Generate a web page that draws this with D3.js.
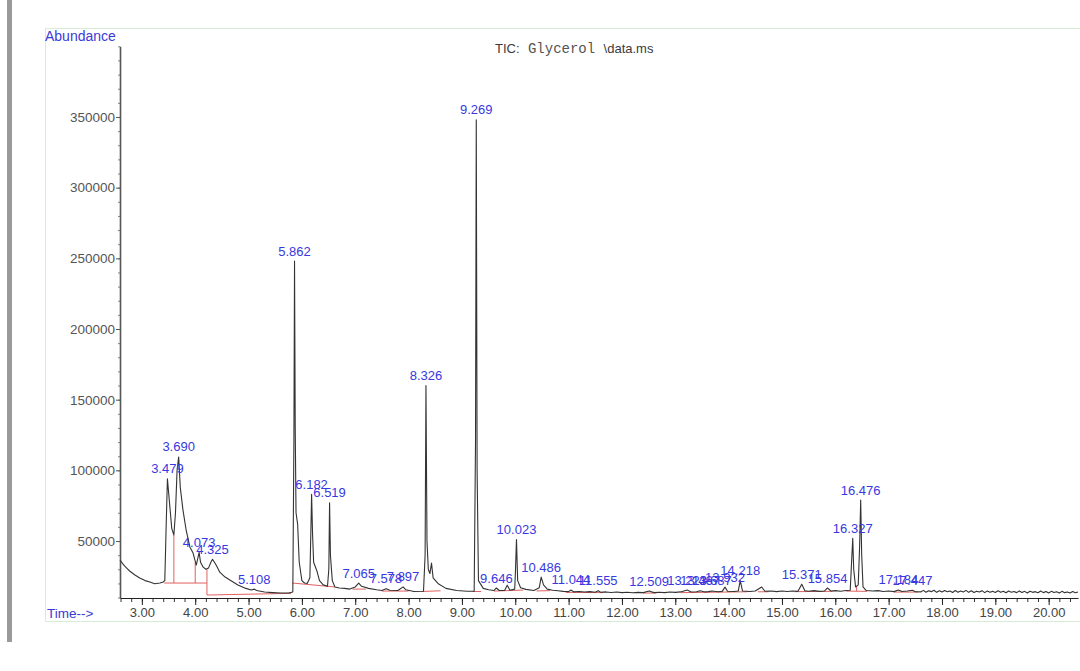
<!DOCTYPE html>
<html>
<head>
<meta charset="utf-8">
<script src="https://cdn.jsdelivr.net/npm/d3@7"></script>
<style>
  html, body { margin: 0; padding: 0; background: #ffffff; }
  svg { display: block; }
  text { font-family: "Liberation Sans", Arial, sans-serif; }
</style>
</head>
<body>
<svg id="chart" width="1080" height="671"></svg>
<script>
// Total ion chromatogram: retention time (min) and abundance
const retentionTime = [
  2.59, 2.64, 2.68, 2.73, 2.77, 2.87, 2.96, 3.06, 3.15, 3.24, 3.34, 3.40, 3.43, 3.455, 3.479,
  3.50, 3.53, 3.56, 3.60, 3.63, 3.66, 3.69, 3.72, 3.77, 3.83, 3.90, 3.96, 4.02, 4.05, 4.073,
  4.10, 4.15, 4.20, 4.25, 4.30, 4.325, 4.36, 4.40, 4.46, 4.56, 4.65, 4.80, 4.95, 5.05, 5.108,
  5.15, 5.30, 5.45, 5.60, 5.75, 5.83, 5.85, 5.862, 5.875, 5.89, 5.92, 5.95, 6.00, 6.05, 6.10,
  6.15, 6.17, 6.182, 6.20, 6.22, 6.25, 6.28, 6.33, 6.40, 6.48, 6.505, 6.519, 6.535, 6.57, 6.62,
  6.70, 6.80, 6.90, 7.00, 7.065, 7.12, 7.25, 7.40, 7.50, 7.578, 7.65, 7.80, 7.897, 7.95, 8.10,
  8.28, 8.31, 8.326, 8.345, 8.37, 8.40, 8.43, 8.46, 8.55, 8.70, 8.90, 9.10, 9.23, 9.255, 9.269,
  9.285, 9.31, 9.40, 9.50, 9.60, 9.646, 9.70, 9.80, 9.85, 9.90, 9.99, 10.005, 10.023, 10.045, 10.10,
  10.20, 10.35, 10.45, 10.486, 10.53, 10.60, 10.70, 10.80, 10.90, 11.00, 11.044, 11.10, 11.20, 11.30, 11.40,
  11.50, 11.555, 11.60, 11.70, 11.80, 11.90, 12.00, 12.10, 12.20, 12.30, 12.40, 12.509, 12.60, 12.70, 12.80,
  12.90, 13.00, 13.10, 13.223, 13.30, 13.40, 13.467, 13.55, 13.62, 13.687, 13.80, 13.88, 13.932, 13.98, 14.10,
  14.18, 14.218, 14.26, 14.40, 14.50, 14.62, 14.68, 14.80, 14.90, 15.00, 15.10, 15.20, 15.30, 15.371, 15.43,
  15.50, 15.60, 15.70, 15.80, 15.854, 15.92, 16.00, 16.10, 16.20, 16.28, 16.305, 16.327, 16.345, 16.38, 16.43,
  16.455, 16.476, 16.495, 16.52, 16.58, 16.70, 16.80, 16.90, 17.00, 17.10, 17.184, 17.25, 17.35, 17.447, 17.50,
  17.60, 17.65, 17.70, 17.75, 17.80, 17.85, 17.90, 17.95, 18.00, 18.05, 18.10, 18.15, 18.20, 18.25, 18.30,
  18.35, 18.40, 18.45, 18.50, 18.55, 18.60, 18.65, 18.70, 18.75, 18.80, 18.85, 18.90, 18.95, 19.00, 19.05,
  19.10, 19.15, 19.20, 19.25, 19.30, 19.35, 19.40, 19.45, 19.50, 19.55, 19.60, 19.65, 19.70, 19.75, 19.80,
  19.85, 19.90, 19.95, 20.00, 20.05, 20.10, 20.15, 20.20, 20.25, 20.30, 20.35, 20.40, 20.45, 20.50, 20.55
];
const abundance = [
  36600, 34000, 32200, 30300, 28800, 26000, 23800, 22000, 21000, 19800, 20300, 21000, 22000, 60000, 94000,
  85000, 72000, 59000, 54300, 70000, 100000, 109500, 88000, 72000, 57800, 45800, 41500, 33000, 38000, 42000,
  35000, 31500, 30000, 31000, 35500, 37000, 35000, 32500, 28000, 24500, 22400, 18900, 16500, 15400, 16000,
  15000, 13900, 13500, 13200, 13200, 14000, 120000, 248000, 130000, 70000, 62000, 35000, 22000, 20300, 20000,
  24000, 60000, 83000, 55000, 35000, 32000, 29000, 22000, 19000, 18000, 30000, 77000, 40000, 22000, 17500,
  16800, 16500, 16000, 17500, 20300, 18000, 16500, 15500, 15000, 16300, 15200, 15000, 17600, 15500, 14300,
  14500, 40000, 160000, 50000, 30000, 27000, 34400, 24000, 20000, 16500, 15000, 14500, 14500, 120000, 348000,
  100000, 22000, 16500, 15500, 15000, 16800, 15000, 15000, 18800, 15200, 16000, 30000, 51000, 22000, 17000,
  15800, 15000, 17000, 24500, 19000, 16000, 15200, 14800, 14400, 14200, 15400, 14000, 14300, 13900, 14200,
  13800, 14900, 13800, 14000, 13600, 13900, 13500, 13800, 13400, 13700, 13500, 14600, 13500, 13800, 13500,
  13900, 13700, 14000, 15300, 13900, 14100, 14800, 14000, 14200, 14700, 14100, 14400, 17400, 14500, 14300,
  14600, 22000, 14700, 14300, 14600, 17500, 14500, 14700, 14200, 14600, 14300, 14700, 14400, 19500, 14800,
  14500, 14900, 14400, 14700, 16800, 14600, 14900, 14500, 15000, 15200, 35000, 52000, 30000, 17500, 19000,
  45000, 79000, 40000, 17500, 15000, 14600, 14900, 14300, 14700, 14200, 15400, 14300, 14700, 15200, 14100,
  14000, 15100, 13800, 14900, 14200, 15200, 13700, 14800, 13900, 15000, 14100, 14700, 13600, 15000, 13800,
  14600, 14000, 15100, 13700, 14800, 13600, 14500, 13900, 14900, 13500, 14700, 13800, 14400, 13600, 14800,
  13700, 14500, 13400, 14600, 13800, 14300, 13500, 14700, 13600, 14400, 13300, 14500, 13700, 14200, 13400,
  14600, 13500, 14300, 13300, 14400, 13600, 14100, 13200, 14400, 13500, 14000, 13200, 14300, 13400, 13900
];

// Labelled peaks (retention time of the apex)
const peakTimes = [
  3.479, 3.690, 4.073, 4.325, 5.108, 5.862, 6.182, 6.519, 7.065, 7.578, 7.897, 8.326, 9.269,
  9.646, 10.023, 10.486, 11.044, 11.555, 12.509, 13.223, 13.467, 13.687, 13.932, 14.218,
  15.371, 15.854, 16.327, 16.476, 17.184, 17.447
];

// Integration baselines [start time, start abundance, end time, end abundance]
const baselineSegments = [
  [3.42, 20300, 4.22, 20300],
  [4.22, 11800, 5.80, 13000],
  [5.82, 20300, 6.62, 17500],
  [6.95, 16000, 7.20, 16000],
  [7.50, 14600, 8.00, 14600],
  [8.25, 14300, 8.60, 14800],
  [9.20, 14300, 9.36, 14300],
  [9.60, 14600, 10.15, 15300],
  [10.40, 14700, 10.65, 14900],
  [10.95, 13700, 11.65, 13500],
  [12.40, 13200, 12.65, 13200],
  [13.10, 13500, 14.35, 14100],
  [14.55, 14100, 14.75, 14100],
  [15.25, 14200, 15.95, 14400],
  [16.20, 14600, 16.60, 14400],
  [17.10, 13900, 17.55, 13900]
];
// Peak-splitting drop lines [time, baseline abundance, signal abundance]
const dropLines = [
  [3.60, 20300, 54300],
  [4.00, 20300, 35000],
  [4.22, 11800, 30000],
  [16.40, 14500, 18000]
];

const xTicks = [3, 4, 5, 6, 7, 8, 9, 10, 11, 12, 13, 14, 15, 16, 17, 18, 19, 20];
const yTicks = [50000, 100000, 150000, 200000, 250000, 300000, 350000];

const svg = d3.select("#chart");

const x = d3.scaleLinear().domain([2.59, 20.55]).range([120, 1078]);
const y = d3.scaleLinear().domain([9700, 400000]).range([598, 46.3]);

// Left window bar and light frame
svg.append("rect").attr("x", 7).attr("y", 0).attr("width", 5).attr("height", 642).attr("fill", "#9a9a9a");
svg.append("rect").attr("x", 45.5).attr("y", 28.5).attr("width", 1040).attr("height", 593)
  .attr("fill", "none").attr("stroke", "#d6ecd6").attr("stroke-width", 1);

// Title
const title = svg.append("text").attr("x", 495).attr("y", 53).attr("fill", "#3a3a3a").style("font-size", "13px");
title.append("tspan").text("TIC:");
title.append("tspan").style("font-family", "'Liberation Mono', 'Courier New', monospace").style("font-size", "14px").attr("fill", "#555").text(" Glycerol ");
title.append("tspan").text("\\data.ms");

// Axis captions
svg.append("text").attr("x", 45).attr("y", 41).attr("fill", "#3a3ad6").style("font-size", "14px").text("Abundance");
svg.append("text").attr("x", 47).attr("y", 618).attr("fill", "#3a3ad6").style("font-size", "13.5px").text("Time-->");

// Minor ticks
const minorX = [];
for (let t = 2.6; t <= 20.55; t += 0.2) minorX.push(+t.toFixed(1));
svg.append("g").attr("transform", "translate(0,598)")
  .call(d3.axisBottom(x).tickValues(minorX).tickSize(4).tickFormat("").tickSizeOuter(0))
  .call(g => g.select(".domain").remove())
  .call(g => g.selectAll("line").attr("stroke", "#333"));

const minorY = [];
for (let v = 10000; v <= 400000; v += 10000) minorY.push(v);
svg.append("g").attr("transform", "translate(120,0)")
  .call(d3.axisLeft(y).tickValues(minorY).tickSize(2).tickFormat("").tickSizeOuter(0))
  .call(g => g.select(".domain").remove())
  .call(g => g.selectAll("line").attr("stroke", "#888"));

// Major axes
const xAxis = svg.append("g").attr("transform", "translate(0,598)")
  .call(d3.axisBottom(x).tickValues(xTicks).tickSize(7).tickPadding(3).tickFormat(d3.format(".2f")).tickSizeOuter(0));
xAxis.select(".domain").attr("stroke", "#222").attr("stroke-width", 1.2);
xAxis.selectAll("line").attr("stroke", "#222");
xAxis.selectAll("text").attr("fill", "#444").style("font-size", "13px").style("font-family", "'Liberation Sans', Arial, sans-serif");

const yAxis = svg.append("g").attr("transform", "translate(120,0)")
  .call(d3.axisLeft(y).tickValues(yTicks).tickSize(4).tickPadding(1).tickFormat(d3.format("d")).tickSizeOuter(0));
yAxis.select(".domain").attr("stroke", "#555").attr("stroke-width", 1.6);
yAxis.selectAll("line").attr("stroke", "#555");
yAxis.selectAll("text").attr("fill", "#555").style("font-size", "13.5px").style("font-family", "'Liberation Sans', Arial, sans-serif");

// Integration baselines and drop lines
svg.append("g").selectAll("line.base").data(baselineSegments).join("line")
  .attr("x1", d => x(d[0])).attr("y1", d => y(d[1]))
  .attr("x2", d => x(d[2])).attr("y2", d => y(d[3]))
  .attr("stroke", "#e06060").attr("stroke-width", 1);
svg.append("g").selectAll("line.drop").data(dropLines).join("line")
  .attr("x1", d => x(d[0])).attr("y1", d => y(d[1]))
  .attr("x2", d => x(d[0])).attr("y2", d => y(d[2]))
  .attr("stroke", "#e06060").attr("stroke-width", 1);

// Signal trace
const points = retentionTime.map((t, i) => [t, abundance[i]]);
svg.append("path").datum(points)
  .attr("fill", "none").attr("stroke", "#333").attr("stroke-width", 1.1)
  .attr("stroke-linejoin", "round")
  .attr("d", d3.line().x(d => x(d[0])).y(d => y(d[1])));

// Peak labels at each apex
const apexOf = t => abundance[retentionTime.findIndex(v => Math.abs(v - t) < 1e-6)];
svg.append("g").selectAll("text").data(peakTimes).join("text")
  .attr("x", d => x(d))
  .attr("y", d => y(apexOf(d)) - 10)
  .attr("dy", "0.35em")
  .attr("text-anchor", "middle")
  .attr("fill", "#3838e0")
  .style("font-size", "13px")
  .text(d => d.toFixed(3));
</script>
</body>
</html>
